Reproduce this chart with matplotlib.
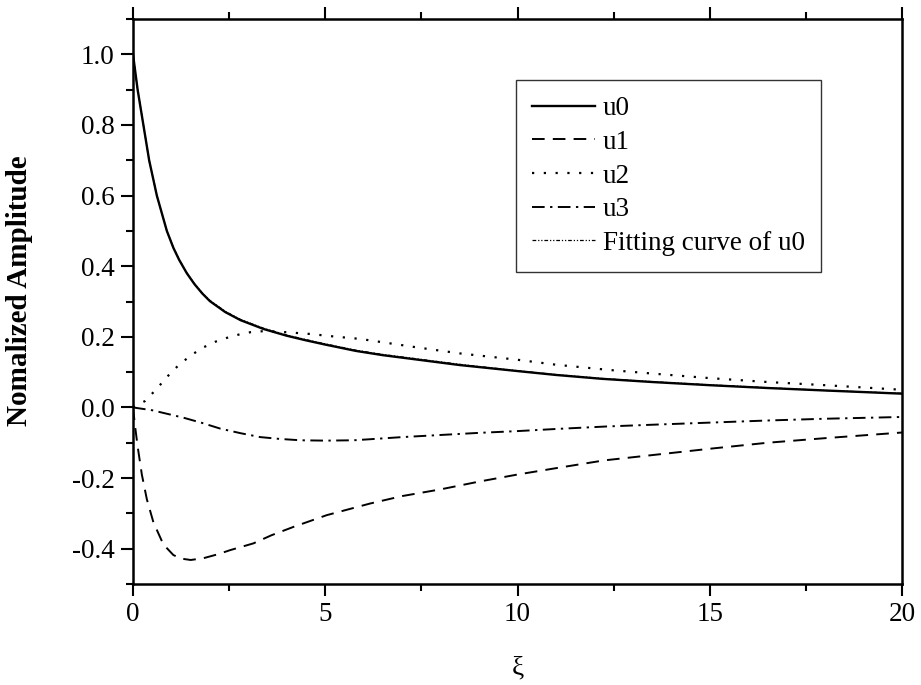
import matplotlib
matplotlib.use("Agg")
import matplotlib.pyplot as plt
from matplotlib.ticker import MultipleLocator

plt.rcParams['font.family'] = ['Liberation Serif', 'DejaVu Serif']

# ---- data ----
u0_x = [0, 0.12, 0.27, 0.42, 0.62, 0.88, 1.05, 1.2, 1.4, 1.6, 1.8, 2.0, 2.4, 2.8, 3.4, 4.0, 4.5,
        5.0, 5.8, 6.5, 7.5, 8.5, 10, 11, 12.2, 13.5, 15, 16.5, 18, 20]
u0_y = [1.0, 0.9, 0.8, 0.7, 0.6, 0.5, 0.452, 0.418, 0.380, 0.349, 0.323, 0.301, 0.270, 0.247,
        0.222, 0.203, 0.190, 0.178, 0.160, 0.148, 0.134, 0.120, 0.103, 0.092, 0.081, 0.072,
        0.063, 0.055, 0.048, 0.039]

fit_x = [0, 0.12, 0.27, 0.42, 0.62, 0.88, 1.05, 1.2, 1.4, 1.6, 1.8, 2.0, 2.4, 2.8, 3.4, 4.0, 4.5,
         5.0, 5.8, 6.5, 7.5, 8.5, 10, 11, 12.2, 13.5, 15, 16.5, 18, 20]
fit_y = [1.0, 0.9, 0.8, 0.7, 0.6, 0.5, 0.453, 0.419, 0.381, 0.350, 0.324, 0.303, 0.272, 0.249,
         0.224, 0.205, 0.192, 0.180, 0.162, 0.150, 0.136, 0.122, 0.104, 0.093, 0.082, 0.073,
         0.064, 0.056, 0.048, 0.040]

u1_x = [0, 0.05, 0.12, 0.23, 0.36, 0.53, 0.79, 1.05, 1.25, 1.5, 1.83, 2.2, 2.53, 3.13, 3.6,
        4.18, 5.04, 6.17, 7, 8, 9, 10, 11, 12.25, 13.5, 15, 16.5, 18, 20]
u1_y = [0, -0.05, -0.11, -0.19, -0.26, -0.325, -0.388, -0.418, -0.428, -0.432, -0.427, -0.416,
        -0.404, -0.385, -0.362, -0.338, -0.305, -0.272, -0.251, -0.232, -0.210, -0.190, -0.172,
        -0.150, -0.135, -0.117, -0.100, -0.087, -0.071]

u2_x = [0, 0.31, 0.62, 0.88, 1.18, 1.5, 1.81, 2.14, 2.44, 2.74, 3.05, 3.39, 4.0, 4.61, 5.22,
        5.91, 7.39, 8.5, 10, 11, 12.4, 13.5, 15, 16.5, 18, 20]
u2_y = [0, 0.018, 0.053, 0.086, 0.119, 0.147, 0.169, 0.186, 0.197, 0.206, 0.213, 0.216, 0.213,
        0.208, 0.201, 0.194, 0.170, 0.153, 0.135, 0.121, 0.106, 0.096, 0.083, 0.072, 0.063, 0.050]

u3_x = [0, 0.5, 1.31, 1.8, 2.27, 2.8, 3.31, 3.8, 4.35, 5.0, 5.74, 6.17, 7, 8, 9, 10, 11, 12.3,
        13.5, 15, 16.5, 18, 20]
u3_y = [0, -0.008, -0.029, -0.044, -0.060, -0.073, -0.084, -0.089, -0.093, -0.094, -0.093, -0.090,
        -0.084, -0.078, -0.072, -0.067, -0.061, -0.054, -0.049, -0.043, -0.037, -0.032, -0.027]

labels = ['u0', 'u1', 'u2', 'u3', 'Fitting curve of u0']
x_ticks = [0, 5, 10, 15, 20]
y_ticks = [-0.4, -0.2, 0.0, 0.2, 0.4, 0.6, 0.8, 1.0]

fig = plt.figure(figsize=(9.21, 6.85), dpi=100)
ax = fig.add_axes([133/921, 1-584/685, (902-133)/921, (584-19)/685])

ax.plot(u0_x, u0_y, color='black', lw=1.7, ls='-', label=labels[0])
ax.plot(u1_x, u1_y, color='black', lw=1.4, ls=(0, (6.5, 4.2)), label=labels[1])
ax.plot(u2_x, u2_y, color='black', lw=1.6, ls=(0, (1, 4.3)), label=labels[2])
ax.plot(u3_x, u3_y, color='black', lw=1.4, ls=(0, (6.5, 2.8, 1.2, 2.8)), label=labels[3])
ax.plot(fit_x, fit_y, color='black', lw=0.9, ls=(0, (3, 1.5, 1, 1.5, 1, 1.5)), label=labels[4])

ax.set_xlim(0, 20)
ax.set_ylim(-0.5, 1.1)
ax.set_xticks(x_ticks)
ax.set_yticks(y_ticks)
ax.set_yticklabels([f'{v:.1f}' for v in y_ticks])
ax.xaxis.set_minor_locator(MultipleLocator(2.5))
ax.yaxis.set_minor_locator(MultipleLocator(0.1))

for s in ax.spines.values():
    s.set_linewidth(1.8)
ax.tick_params(which='both', direction='out', width=1.5, labelsize=19.5,
               top=True, bottom=True, left=True, right=False, labeltop=False)
ax.tick_params(which='major', length=8.3, pad=5)
ax.tick_params(which='minor', length=4.8)

ax.set_xlabel('ξ', fontsize=19.5, labelpad=20)
ax.set_ylabel('Nomalized Amplitude', fontsize=21, fontweight='bold')
ax.yaxis.set_label_coords(-0.130, 0.52)

leg = ax.legend(loc='upper left', bbox_to_anchor=(516/921, 1-80/685),
                bbox_transform=fig.transFigure, fontsize=19.5, frameon=True, fancybox=False,
                edgecolor='black', handlelength=2.3, handletextpad=0.3, labelspacing=0.32,
                borderpad=0.6, borderaxespad=0)
leg.get_frame().set_linewidth(1.0)

fig.savefig('out.png', dpi=100)
